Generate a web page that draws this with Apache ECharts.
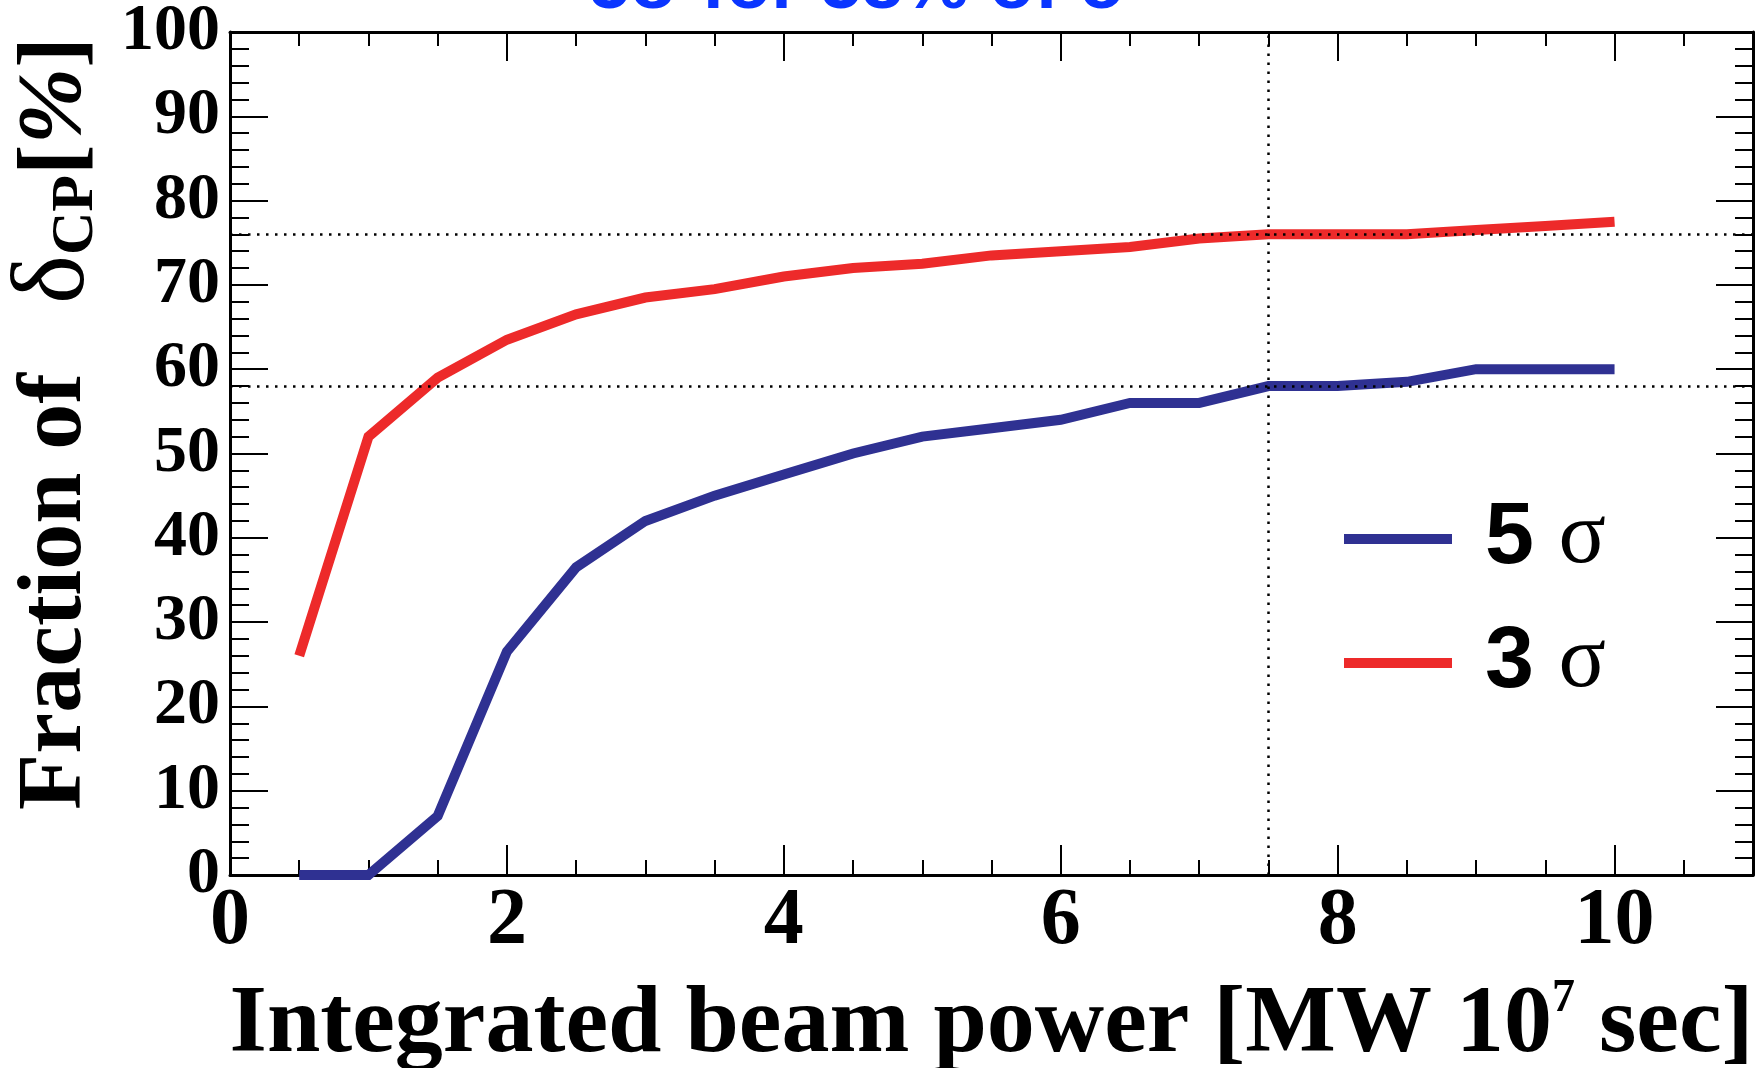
<!DOCTYPE html>
<html>
<head>
<meta charset="utf-8">
<script src="https://cdn.jsdelivr.net/npm/echarts@6/dist/echarts.min.js"></script>
<style>
  html, body { margin: 0; padding: 0; background: #ffffff; }
  #chart { width: 1756px; height: 1068px; }
</style>
</head>
<body>
<div id="chart"></div>
<script>
// ---- data ----
const beamPower = [0.5, 1, 1.5, 2, 2.5, 3, 3.5, 4, 4.5, 5, 5.5, 6, 6.5, 7, 7.5, 8, 8.5, 9, 9.5, 10];
const frac5sigma = [0, 0, 7, 26.5, 36.5, 42, 45, 47.5, 50, 52, 53, 54, 56, 56, 58, 58, 58.5, 60, 60, 60];
const frac3sigma = [26, 52, 59, 63.5, 66.5, 68.5, 69.5, 71, 72, 72.5, 73.5, 74, 74.5, 75.5, 76, 76, 76, 76.5, 77, 77.5];
const seriesNames = ['5σ', '3σ'];
const guideY = [76, 58];
const guideX = [7.5];
const topNote = '5σ for 58% of δ';

const toPairs = (xs, ys) => xs.map((x, i) => [x, ys[i]]);

const serif = "'Liberation Serif', 'DejaVu Serif', serif";
const sans = "'Liberation Sans', Arial, sans-serif";
const BLUE = '#2f3192';
const RED = '#ed2a2a';

const chart = echarts.init(document.getElementById('chart'), null, { renderer: 'canvas' });

const axisLineStyle = { color: '#000', width: 3 };

const option = {
  animation: false,
  backgroundColor: '#ffffff',
  grid: { left: 230, right: 3, top: 32, bottom: 193, containLabel: false, outerBoundsMode: 'none' },
  graphic: [{
    type: 'text',
    left: 589,
    top: -49,
    style: {
      text: topNote,
      fill: '#0a35ff',
      font: "bold 74px " + sans
    }
  }],
  legend: {
    orient: 'vertical',
    left: 1339,
    top: 490,
    itemWidth: 108,
    itemHeight: 10,
    itemGap: 36,
    icon: 'rect',
    data: seriesNames,
    formatter: function (name) {
      return '{n|' + name.charAt(0) + '}{n| }{s|' + name.slice(1) + '}';
    },
    textStyle: {
      padding: [0, 0, 0, 28],
      rich: {
        n: { fontFamily: sans, fontWeight: 'bold', fontSize: 88, lineHeight: 90, color: '#000' },
        s: { fontFamily: serif, fontSize: 88, lineHeight: 90, color: '#000' }
      }
    }
  },
  xAxis: [{
    type: 'value',
    position: 'bottom',
    min: 0, max: 11, interval: 2,
    axisLine: { show: true, onZero: false, lineStyle: axisLineStyle },
    axisTick: { show: true, inside: true, length: 30, lineStyle: { color: '#000', width: 2 } },
    minorTick: { show: true, splitNumber: 4, length: 15, lineStyle: { color: '#000', width: 2 } },
    splitLine: { show: false },
    axisLabel: {
      show: true, margin: 7, showMaxLabel: false,
      fontFamily: serif, fontWeight: 'bold', fontSize: 80, color: '#000',
      formatter: v => (v > 10 ? '' : String(v))
    },
    name: '{t|Integrated beam power [MW 10}{sup|7}{t| sec]}',
    nameLocation: 'middle',
    nameGap: 101,
    nameTextStyle: {
      rich: {
        t: { fontFamily: serif, fontWeight: 'bold', fontSize: 96, lineHeight: 100, color: '#000' },
        sup: { fontFamily: serif, fontWeight: 'bold', fontSize: 46, lineHeight: 44, verticalAlign: 'top', color: '#000' }
      }
    }
  }, {
    type: 'value',
    position: 'top',
    min: 0, max: 11, interval: 2,
    axisLine: { show: true, onZero: false, lineStyle: axisLineStyle },
    axisTick: { show: true, inside: true, length: 29, lineStyle: { color: '#000', width: 2 } },
    minorTick: { show: true, splitNumber: 4, length: 14, lineStyle: { color: '#000', width: 2 } },
    splitLine: { show: false },
    axisLabel: { show: false }
  }],
  yAxis: [{
    type: 'value',
    position: 'left',
    min: 0, max: 100, interval: 10,
    axisLine: { show: true, onZero: false, lineStyle: axisLineStyle },
    axisTick: { show: true, inside: true, length: 38, lineStyle: { color: '#000', width: 2 } },
    minorTick: { show: true, splitNumber: 5, length: 19, lineStyle: { color: '#000', width: 2 } },
    splitLine: { show: false },
    axisLabel: {
      show: true, margin: 10,
      fontFamily: serif, fontWeight: 'bold', fontSize: 66, color: '#000'
    },
    name: '{b|Fraction of   }{d|δ}{s|CP}{b|[}{p|%}{b|]}',
    nameLocation: 'middle',
    nameGap: 124,
    nameTextStyle: {
      padding: [0, 0, 0, 60],
      rich: {
        b: { fontFamily: serif, fontWeight: 'bold', fontSize: 92, lineHeight: 100, color: '#000' },
        d: { fontFamily: serif, fontSize: 104, lineHeight: 100, color: '#000' },
        s: { fontFamily: serif, fontWeight: 'bold', fontSize: 60, lineHeight: 44, verticalAlign: 'bottom', color: '#000' },
        p: { fontFamily: serif, fontWeight: 'bold', fontStyle: 'italic', fontSize: 92, lineHeight: 100, color: '#000' }
      }
    }
  }, {
    type: 'value',
    position: 'right',
    min: 0, max: 100, interval: 10,
    axisLine: { show: true, onZero: false, lineStyle: axisLineStyle },
    axisTick: { show: true, inside: true, length: 37, lineStyle: { color: '#000', width: 2 } },
    minorTick: { show: true, splitNumber: 5, length: 18, lineStyle: { color: '#000', width: 2 } },
    splitLine: { show: false },
    axisLabel: { show: false }
  }],
  series: [{
    name: seriesNames[0],
    type: 'line',
    xAxisIndex: 0, yAxisIndex: 0,
    data: toPairs(beamPower, frac5sigma),
    showSymbol: false,
    clip: false,
    color: BLUE,
    lineStyle: { color: BLUE, width: 10, cap: 'butt', join: 'miter' },
    z: 3
  }, {
    name: seriesNames[1],
    type: 'line',
    xAxisIndex: 0, yAxisIndex: 0,
    data: toPairs(beamPower, frac3sigma),
    showSymbol: false,
    clip: false,
    color: RED,
    lineStyle: { color: RED, width: 10, cap: 'butt', join: 'miter' },
    z: 3
  }, {
    name: 'guides',
    type: 'line',
    xAxisIndex: 0, yAxisIndex: 0,
    data: [],
    z: 5,
    silent: true,
    markLine: {
      silent: true,
      symbol: ['none', 'none'],
      label: { show: false },
      lineStyle: { color: '#000', width: 2.5, type: [2.5, 6.5] },
      emphasis: { disabled: true },
      data: guideY.map(v => ({ yAxis: v })).concat(guideX.map(v => ({ xAxis: v })))
    }
  }]
};

chart.setOption(option);
</script>
</body>
</html>
